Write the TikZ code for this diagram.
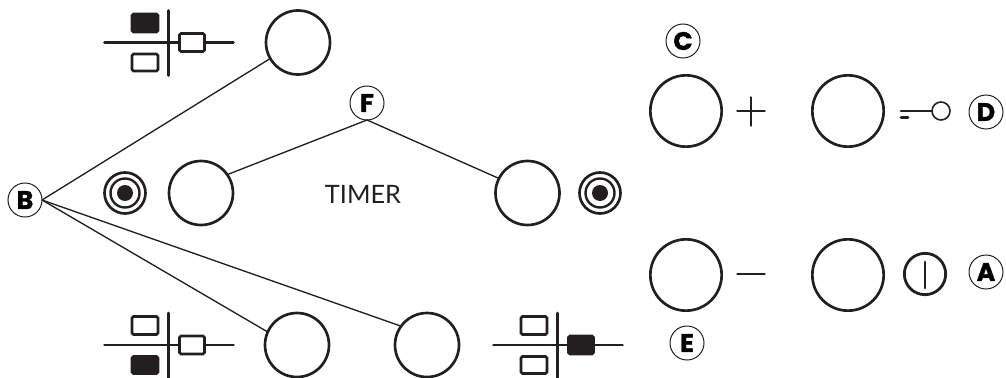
\documentclass[tikz,border=0pt]{standalone}
\usepackage{fontspec}
\setmainfont{Lato}
\newfontfamily\labfont{Poppins}[BoldFeatures={FakeBold=1.2}]
\definecolor{ink}{HTML}{231F20}
\tikzset{
  px/.style={x=0.75pt,y=-0.75pt},
  knob/.style={circle,draw=ink,line width=2pt,inner sep=0,outer sep=0,minimum size=48pt},
  bigknob/.style={circle,draw=ink,line width=2pt,inner sep=0,outer sep=0,minimum size=53.5pt},
  letter/.style={circle,draw=ink,line width=0.75pt,inner sep=0,outer sep=0,minimum size=25.5pt,fill=white,text=black,font=\labfont\bfseries\fontsize{19}{19}\selectfont},
  wire/.style={draw=ink,line width=1pt},
  sym/.style={draw=ink,line width=2.2pt,line cap=round},
  swbox/.style={draw=ink,line width=2pt,rounded corners=1.2pt,fill=white},
  swfill/.style={draw=ink,line width=2pt,rounded corners=1.2pt,fill=ink},
  bulb/.style={circle,draw=ink,line width=1.2pt,inner sep=0,outer sep=0,minimum size=13.5pt},
  power/.style={circle,draw=ink,line width=2.1pt,inner sep=0,outer sep=0,minimum size=31pt},
}
\newcommand{\swsym}[5]{%
  \begin{scope}[shift={(#1,#2)}]
    \draw[sym] (-64,0) -- (65,0);
    \draw[sym] (0,-32) -- (0,33);
    \draw[#3] (-36.5,-28.5) rectangle (-10.5,-10.5);
    \draw[#4] (-36.5,11.5) rectangle (-10.5,28.5);
    \draw[#5] (11,-9) rectangle (36,9);
  \end{scope}}
\newcommand{\targetsym}[2]{%
  \begin{scope}[shift={(#1,#2)}]
    \draw[draw=ink,line width=2pt] (0,0) circle[radius=20.5];
    \draw[draw=ink,line width=1.8pt] (0,0) circle[radius=14.5];
    \fill[ink] (0,0) circle[radius=8];
  \end{scope}}
\begin{document}
\begin{tikzpicture}[px]
\useasboundingbox (0,0) rectangle (1006,378);
\node[knob] (k1) at (298,42.5) {};
\node[knob] (k2) at (201,193) {};
\node[knob] (k3) at (527.5,193) {};
\node[knob] (k4) at (297,345) {};
\node[knob] (k5) at (427,345) {};
\node[bigknob] (k6) at (686,111) {};
\node[bigknob] (k7) at (848,111) {};
\node[bigknob] (k8) at (686,275) {};
\node[bigknob] (k9) at (848,275) {};
\node[letter] (B) at (25,200) {B};
\node[letter] (F) at (367,103) {F};
\node[letter] (C) at (683,41) {C};
\node[letter] (D) at (986,112) {D};
\node[letter] (A) at (986,272) {A};
\node[letter] (E) at (687,343) {E};
\draw[wire] (B.east) -- (k1.210);
\draw[wire] (B.east) -- (k4.156);
\draw[wire] (B.east) -- (k5.144);
\draw[wire] (k2.35) -- (F.south);
\draw[wire] (F.south) -- (k3.153);
\swsym{168.5}{42.5}{swfill}{swbox}{swbox}
\swsym{168.5}{345}{swbox}{swfill}{swbox}
\swsym{557.5}{345}{swbox}{swbox}{swfill}
\targetsym{125}{193}
\targetsym{600}{193}
\node[text=ink,font=\fontsize{19}{19}\selectfont,inner sep=0] (T) at (363,194) {TIMER};
\draw[sym] (737.5,111) -- (764.5,111);
\draw[sym] (751,97.5) -- (751,125.5);
\draw[sym] (737.5,274) -- (764.5,274);
\node[bulb] (kc) at (941,111) {};
\coordinate (ks) at (901,111);
\draw[sym] (ks) -- (kc.west);
\draw[sym] (901,117.5) -- (908,117.5);
\node[power] (pw) at (925,274) {};
\draw[sym] (925,262) -- (925,288);
\end{tikzpicture}
\end{document}
